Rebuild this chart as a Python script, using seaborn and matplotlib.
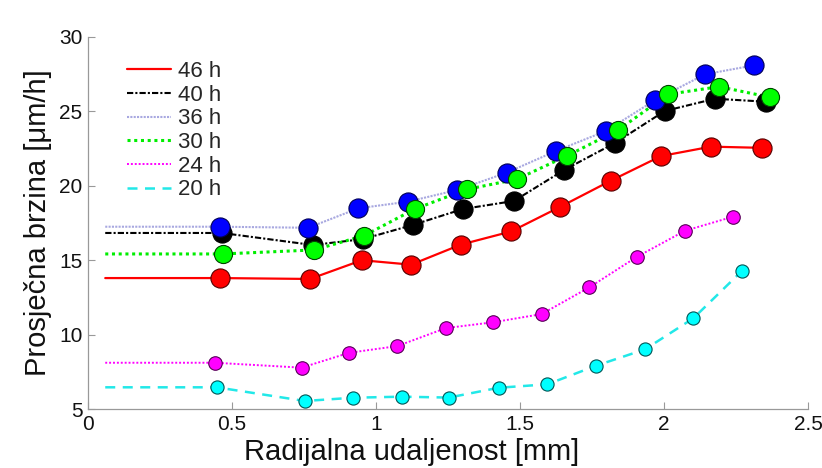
import matplotlib
matplotlib.use("Agg")
import matplotlib.pyplot as plt
import seaborn as sns
import pandas as pd

sns.set_theme(style="white")
plt.rcParams['font.family'] = ['Liberation Sans', 'DejaVu Sans']

x_start = 0.06
series_labels = ["46 h", "40 h", "36 h", "30 h", "24 h", "20 h"]

x46 = [0.458, 0.771, 0.951, 1.122, 1.295, 1.469, 1.639, 1.816, 1.990, 2.163, 2.340]
y46 = [13.80, 13.74, 15.00, 14.70, 16.05, 16.93, 18.58, 20.35, 22.00, 22.63, 22.55]

x40 = [0.465, 0.781, 0.955, 1.128, 1.302, 1.479, 1.653, 1.830, 2.003, 2.177, 2.354]
y40 = [16.83, 16.02, 16.42, 17.37, 18.44, 18.98, 21.06, 22.88, 25.03, 25.85, 25.65]

x36 = [0.458, 0.765, 0.939, 1.110, 1.282, 1.454, 1.625, 1.798, 1.970, 2.142, 2.314]
y36 = [17.25, 17.18, 18.49, 18.93, 19.72, 20.88, 22.34, 23.68, 25.77, 27.49, 28.10]

x30 = [0.468, 0.785, 0.959, 1.135, 1.315, 1.489, 1.664, 1.841, 2.015, 2.191, 2.368]
y30 = [15.42, 15.69, 16.65, 18.44, 19.76, 20.44, 22.02, 23.75, 26.15, 26.66, 25.95]

x24 = [0.441, 0.742, 0.907, 1.074, 1.243, 1.407, 1.575, 1.741, 1.907, 2.073, 2.239]
y24 = [8.11, 7.78, 8.78, 9.23, 10.44, 10.83, 11.38, 13.18, 15.24, 16.98, 17.92]

x20 = [0.447, 0.753, 0.921, 1.089, 1.253, 1.426, 1.595, 1.764, 1.934, 2.102, 2.270]
y20 = [6.46, 5.54, 5.76, 5.83, 5.77, 6.43, 6.66, 7.91, 9.01, 11.10, 14.27]

xs = [x46, x40, x36, x30, x24, x20]
ys = [y46, y40, y36, y30, y24, y20]

line_colors = ["#ff0000", "#000000", "#a8a8e0", "#00ee00", "#ff00ff", "#22e8e8"]
face_colors = ["#ff0000", "#000000", "#0000ff", "#00ff00", "#ff00ff", "#00ffff"]
edge_colors = ["#550000", "#000000", "#000055", "#004400", "#550055", "#005555"]
line_styles = ["-", (0, (3, 1, 1, 1)), (0, (1, 0.6)), (0, (1, 1.2)), (0, (1, 1)), (0, (4, 3))]
line_widths = [1.6, 1.5, 1.5, 2.2, 1.4, 1.8]
marker_sizes = [190, 190, 190, 170, 95, 90]

fig = plt.figure(figsize=(8.22, 4.68), dpi=100)
ax = fig.add_axes([0.107, 0.126, 0.876, 0.795])

handles = []
for lab, x, y, lc, fc, ec, ls, lw, ms in zip(series_labels, xs, ys, line_colors, face_colors,
                                            edge_colors, line_styles, line_widths, marker_sizes):
    df_line = pd.DataFrame({"x": [x_start] + x, "y": [y[0]] + y})
    sns.lineplot(data=df_line, x="x", y="y", ax=ax, color=lc, linestyle=ls, linewidth=lw,
                 estimator=None, sort=False, label=lab, legend=False)
    handles.append(ax.lines[-1])
    df_pts = pd.DataFrame({"x": x, "y": y})
    sns.scatterplot(data=df_pts, x="x", y="y", ax=ax, color=fc, edgecolor=ec, linewidth=0.8,
                    s=ms, legend=False, zorder=3)

ax.set_xlim(0, 2.5)
ax.set_ylim(5, 30)
ax.set_xticks([0, 0.5, 1, 1.5, 2, 2.5])
ax.set_xticklabels(["0", "0.5", "1", "1.5", "2", "2.5"])
ax.set_yticks([5, 10, 15, 20, 25, 30])
ax.set_yticklabels(["5", "10", "15", "20", "25", "30"])
ax.tick_params(direction="in", length=5, width=0.8, color="#999999", labelsize=15,
               labelcolor="#111111", pad=4, bottom=True, left=True, top=False, right=False)
for s in ["top", "right"]:
    ax.spines[s].set_visible(False)
for s in ["left", "bottom"]:
    ax.spines[s].set_color("#999999")
    ax.spines[s].set_linewidth(0.9)

ax.set_xlabel("Radijalna udaljenost [mm]", fontsize=21, color="#111111")
ax.xaxis.set_label_coords(0.45, -0.078)
ax.set_ylabel("Prosječna brzina [μm/h]", fontsize=21, color="#111111", labelpad=5)

ax.legend(handles=handles, labels=series_labels, loc="upper left", bbox_to_anchor=(0.054, 0.935),
          frameon=False, fontsize=16, handlelength=2.0, handletextpad=0.3, labelspacing=0.12,
          borderpad=0, borderaxespad=0)

fig.savefig("out.png", dpi=100, facecolor="white")
